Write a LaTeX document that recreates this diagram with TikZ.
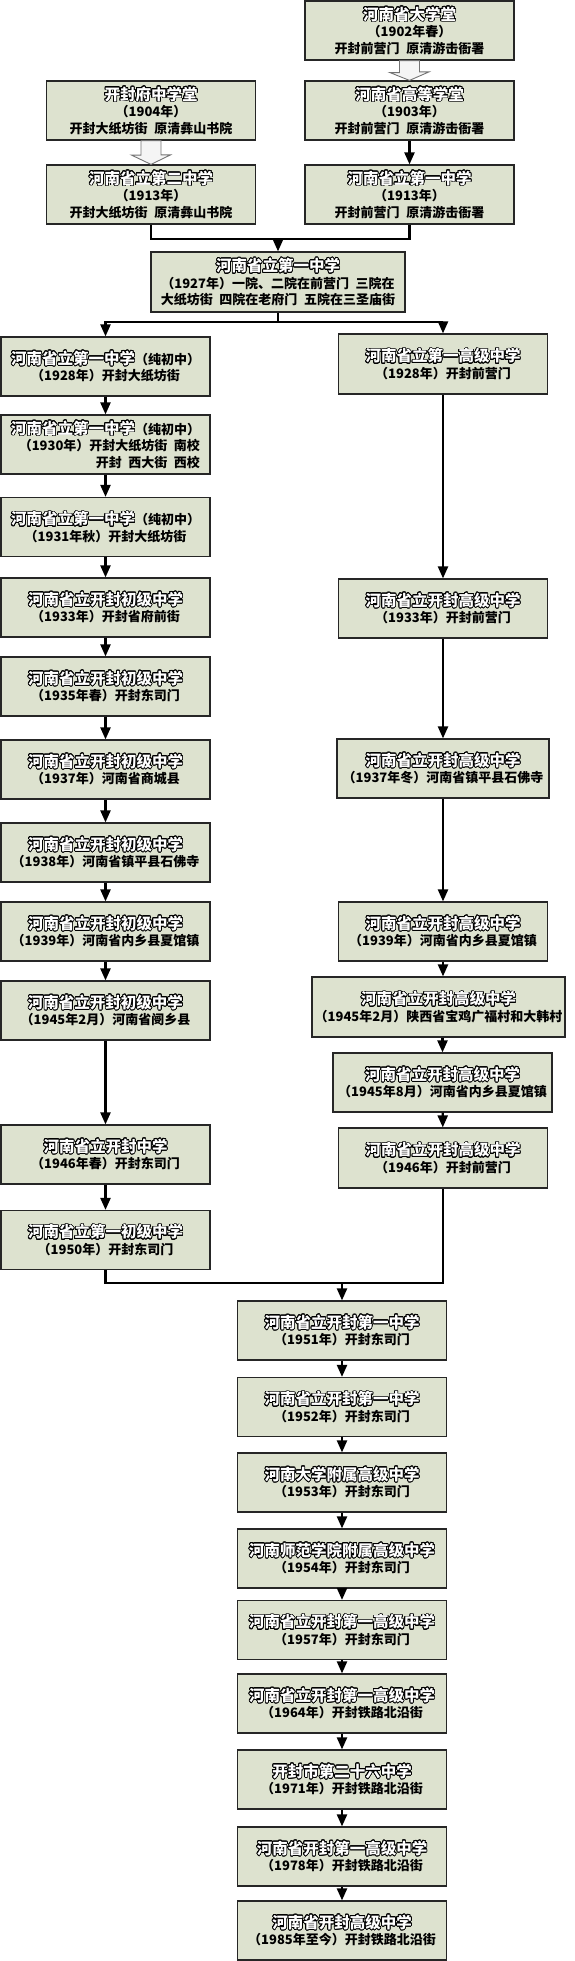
\documentclass[tikz,border=0pt]{standalone}
\usepackage{fontspec}
\newfontfamily\cjk[WordSpace=2.2]{Noto Sans CJK SC}
\usepackage{contour}
\contourlength{0.75pt}
\contournumber{24}
\usetikzlibrary{arrows.meta, positioning, calc}

\definecolor{boxfill}{RGB}{221,226,207}
% outlined school name
\newcommand{\ttl}[1]{{\fontsize{15.5}{16}\selectfont\color{white}\contour{black}{#1}}}

\begin{document}
\begin{tikzpicture}[x=1pt, y=-1pt,
    box/.style={rectangle, draw=black!85, line width=1.2pt, fill=boxfill,
                minimum width=209pt, minimum height=59pt, align=center,
                inner sep=2pt, font=\cjk\bfseries\fontsize{13}{16.5}\selectfont},
    link/.style={draw=black, line width=2.2pt},
    arrow/.style={link, -{Triangle[length=12pt, width=10pt]}},
    hollow/.style={draw=black!55, fill=white!96!black, line width=0.9pt},
]
    \useasboundingbox (0,0) rectangle (575,1961);

    % before 1927
    \node[box] (daxuetang) at (409.5,30.5)  {\ttl{河南省大学堂}\\（1902年春）\\开封前营门 原清游击衙署};
    \node[box] (gaodeng)   at (409.5,110.5) {\ttl{河南省高等学堂}\\（1903年）\\开封前营门 原清游击衙署};
    \node[box] (kaifengfu) at (151,110.5)   {\ttl{开封府中学堂}\\（1904年）\\开封大纸坊街 原清彝山书院};
    \node[box] (erzhong)   at (151,194.5)   {\ttl{河南省立第二中学}\\（1913年）\\开封大纸坊街 原清彝山书院};
    \node[box] (yizhong)   at (409.5,194.5) {\ttl{河南省立第一中学}\\（1913年）\\开封前营门 原清游击衙署};
    \node[box, minimum width=254pt, minimum height=60pt] (yi1927) at (278,282)
        {\ttl{河南省立第一中学}\\（1927年）一院、二院在前营门 三院在\\大纸坊街 四院在老府门 五院在三圣庙街};

    % junior branch
    \node[box] (chu1928) at (105.5,366.5) {\ttl{河南省立第一中学}（纯初中）\\（1928年）开封大纸坊街};
    \node[box, align=right] (chu1930) at (105.5,444.5)
        {\ttl{河南省立第一中学}（纯初中）\\（1930年）开封大纸坊街 南校\\开封 西大街 西校};
    \node[box] (chu1931) at (105.5,527)    {\ttl{河南省立第一中学}（纯初中）\\（1931年秋）开封大纸坊街};
    \node[box] (chu1933) at (105.5,607.5)  {\ttl{河南省立开封初级中学}\\（1933年）开封省府前街};
    \node[box] (chu1935) at (105.5,686.5)  {\ttl{河南省立开封初级中学}\\（1935年春）开封东司门};
    \node[box] (chu1937) at (105.5,769.5)  {\ttl{河南省立开封初级中学}\\（1937年）河南省商城县};
    \node[box] (chu1938) at (105.5,852.5)  {\ttl{河南省立开封初级中学}\\（1938年）河南省镇平县石佛寺};
    \node[box] (chu1939) at (105.5,931.5)  {\ttl{河南省立开封初级中学}\\（1939年）河南省内乡县夏馆镇};
    \node[box] (chu1945) at (105.5,1010.5) {\ttl{河南省立开封初级中学}\\（1945年2月）河南省阌乡县};
    \node[box] (kf1946)  at (105.5,1154.5) {\ttl{河南省立开封中学}\\（1946年春）开封东司门};
    \node[box] (chu1950) at (105.5,1240)   {\ttl{河南省立第一初级中学}\\（1950年）开封东司门};

    % senior branch
    \node[box, minimum height=60pt] (gao1928) at (443,364) {\ttl{河南省立第一高级中学}\\（1928年）开封前营门};
    \node[box] (gao1933) at (443,608.5) {\ttl{河南省立开封高级中学}\\（1933年）开封前营门};
    \node[box, minimum width=212pt] (gao1937) at (443,768.5) {\ttl{河南省立开封高级中学}\\（1937年冬）河南省镇平县石佛寺};
    \node[box] (gao1939) at (443,931.5) {\ttl{河南省立开封高级中学}\\（1939年）河南省内乡县夏馆镇};
    \node[box, minimum width=253pt, minimum height=60pt] (gao1945a) at (438.5,1007)
        {\ttl{河南省立开封高级中学}\\（1945年2月）陕西省宝鸡广福村和大韩村};
    \node[box, minimum width=219pt] (gao1945b) at (442.5,1082.5) {\ttl{河南省立开封高级中学}\\（1945年8月）河南省内乡县夏馆镇};
    \node[box, minimum height=60pt] (gao1946) at (443,1158) {\ttl{河南省立开封高级中学}\\（1946年）开封前营门};

    % after 1951
    \node[box] (kf1951) at (342,1330.5) {\ttl{河南省立开封第一中学}\\（1951年）开封东司门};
    \node[box] (kf1952) at (342,1407)   {\ttl{河南省立开封第一中学}\\（1952年）开封东司门};
    \node[box] (hd1953) at (342,1482.5) {\ttl{河南大学附属高级中学}\\（1953年）开封东司门};
    \node[box] (sy1954) at (342,1558.5) {\ttl{河南师范学院附属高级中学}\\（1954年）开封东司门};
    \node[box] (kf1957) at (342,1630)   {\ttl{河南省立开封第一高级中学}\\（1957年）开封东司门};
    \node[box] (kf1964) at (342,1703.5) {\ttl{河南省立开封第一高级中学}\\（1964年）开封铁路北沿街};
    \node[box] (kf1971) at (342,1779.5) {\ttl{开封市第二十六中学}\\（1971年）开封铁路北沿街};
    \node[box] (kf1978) at (342,1856.5) {\ttl{河南省开封第一高级中学}\\（1978年）开封铁路北沿街};
    \node[box] (kf1985) at (342,1930.5) {\ttl{河南省开封高级中学}\\（1985年至今）开封铁路北沿街};

    % hollow arrows
    \draw[hollow] ($(daxuetang.south)+(-10,0)$) -- ++(0,12) -- ++(-9.5,0) -- (gaodeng.north)
        -- ($(gaodeng.north)+(19.5,-8.5)$) -- ++(-9.5,0) -- ($(daxuetang.south)+(10,0)$) -- cycle;
    \draw[hollow] ($(kaifengfu.south)+(-10,0)$) -- ++(0,14.5) -- ++(-9.5,0) -- (erzhong.north)
        -- ($(erzhong.north)+(19.5,-9.5)$) -- ++(-9.5,0) -- ($(kaifengfu.south)+(10,0)$) -- cycle;

    % joins
    \coordinate (j1) at (278,239);
    \coordinate (j2) at (278,322);
    \coordinate (j3) at (342,1283);

    \draw[arrow] (gaodeng) -- (yizhong);
    \draw[link]  (erzhong.south) |- (j1) -| (yizhong.south);
    \draw[arrow] (j1) -- (yi1927.north);
    \draw[link]  (yi1927.south) -- (j2);
    \draw[arrow] (j2) -| (chu1928.north);
    \draw[arrow] (j2) -| (gao1928.north);

    \draw[arrow] (chu1928) -- (chu1930);
    \draw[arrow] (chu1930) -- (chu1931);
    \draw[arrow] (chu1931) -- (chu1933);
    \draw[arrow] (chu1933) -- (chu1935);
    \draw[arrow] (chu1935) -- (chu1937);
    \draw[arrow] (chu1937) -- (chu1938);
    \draw[arrow] (chu1938) -- (chu1939);
    \draw[arrow] (chu1939) -- (chu1945);
    \draw[arrow] (chu1945) -- (kf1946);
    \draw[arrow] (kf1946)  -- (chu1950);

    \draw[arrow] (gao1928) -- (gao1933);
    \draw[arrow] (gao1933) -- (gao1937);
    \draw[arrow] (gao1937) -- (gao1939);
    \draw[arrow] (gao1939) -- (gao1945a.north -| gao1939);
    \draw[arrow] (gao1945a.south -| gao1945b) -- (gao1945b);
    \draw[arrow] (gao1945b) -- (gao1946);

    \draw[link]  (chu1950.south) |- (j3) -| (gao1946.south);
    \draw[arrow] (j3) -- (kf1951.north);
    \draw[arrow] (kf1951) -- (kf1952);
    \draw[arrow] (kf1952) -- (hd1953);
    \draw[arrow] (hd1953) -- (sy1954);
    \draw[arrow] (sy1954) -- (kf1957);
    \draw[arrow] (kf1957) -- (kf1964);
    \draw[arrow] (kf1964) -- (kf1971);
    \draw[arrow] (kf1971) -- (kf1978);
    \draw[arrow] (kf1978) -- (kf1985);
\end{tikzpicture}
\end{document}
